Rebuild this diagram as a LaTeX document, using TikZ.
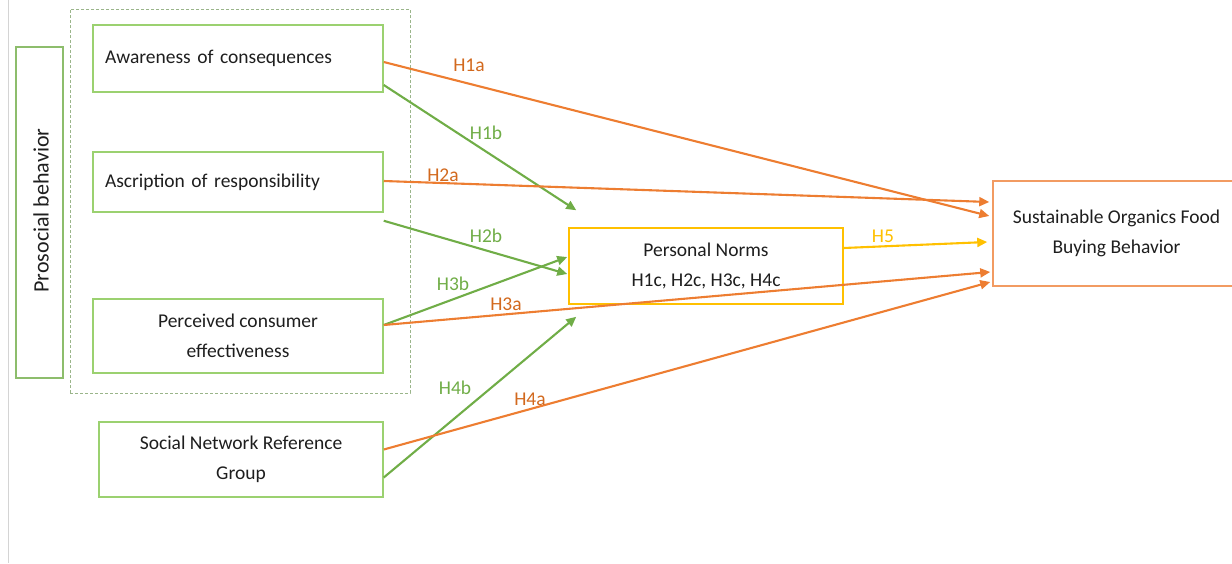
\documentclass[tikz,border=0pt]{standalone}
\usepackage{fontspec}
\setmainfont{Carlito}
\usetikzlibrary{arrows.meta}
\definecolor{txt}{HTML}{1E1E1E}
\definecolor{boxgreen}{HTML}{9BD170}
\definecolor{dashgreen}{HTML}{9AB58A}
\definecolor{arrgreen}{HTML}{70AD47}
\definecolor{arrorange}{HTML}{ED7D31}
\definecolor{laborange}{HTML}{D2691E}
\definecolor{gold}{HTML}{FFC000}
\definecolor{outorange}{HTML}{F29B62}
\definecolor{rule}{HTML}{D4D4D4}
\begin{document}
\begin{tikzpicture}[x=1pt,y=-1pt,
  every node/.style={font=\fontsize{19.5}{30}\selectfont, text=txt},
  gbox/.style={draw=boxgreen, line width=1.5pt, rectangle, inner sep=0pt},
  lbox/.style={gbox, minimum height=#1, text width=266pt, inner xsep=12pt, align=left},
  cbox/.style={gbox, minimum width=284pt, minimum height=#1, align=center},
  arr/.style={line width=2.1pt, -{Triangle[length=10pt,width=9pt]}},
  ga/.style={arr, draw=arrgreen},
  oa/.style={arr, draw=arrorange},
  ya/.style={arr, draw=gold},
  glab/.style={text=arrgreen},
  olab/.style={text=laborange},
  ylab/.style={text=gold}]
\useasboundingbox (0,0) rectangle (1232,563);

% thin page rule on the left
\draw[rule, line width=0.8pt] (8,0) -- (8,563);

% construct group
\node[gbox, draw=arrgreen!80, minimum width=47pt, minimum height=331pt] (pro) at (39.5,212.5) {};
\node[rotate=90, font=\fontsize{22}{26}\selectfont] (protext) at (41,210.5) {Prosocial behavior};
\node[draw=dashgreen, dashed, dash pattern=on 3pt off 2pt, line width=1pt,
      minimum width=340pt, minimum height=384pt, inner sep=0pt] (grp) at (240,201) {};

% predictors
\node[lbox=67pt] (aw) at (238,58.5) {Awareness of consequences};
\node[lbox=60pt] (asc) at (238,182) {Ascription of responsibility};
\node[cbox=74pt, minimum width=290pt] (pce) at (238,336) {Perceived consumer\\effectiveness};
\node[gbox, minimum width=284pt, minimum height=75pt, align=center] (soc) at (241,459.5) {Social Network Reference\\Group};

% mediator and outcome
\node[draw=gold, line width=1.5pt, minimum width=274pt, minimum height=76pt, inner sep=0pt, align=center] (pn) at (706,266) {Personal Norms\\H1c, H2c, H3c, H4c};
\node[draw=outorange, line width=1.5pt, minimum width=247pt, minimum height=105pt, inner sep=0pt, align=center] (sob) at (1116.5,233.5) {Sustainable Organics Food\\Buying Behavior};

% paths to personal norms
\draw[ga] ([yshift=-26.5pt]aw.east) -- ([xshift=8pt,yshift=17pt]pn.north west);
\draw[ga] ([yshift=-8pt]asc.south east) -- ([xshift=-1pt,yshift=-8pt]pn.west);
\draw[ga] ([yshift=11pt]pce.east) -- ([xshift=-1pt,yshift=9pt]pn.west);
\draw[ga] ([yshift=-18pt]soc.east) -- ([xshift=8pt,yshift=-12pt]pn.south west);

% paths to buying behaviour
\draw[oa] ([yshift=-3.5pt]aw.east) -- ([xshift=-3pt,yshift=17.5pt]sob.west);
\draw[oa] ([yshift=1pt]asc.east) -- ([xshift=-3pt,yshift=31.5pt]sob.west);
\draw[oa] ([yshift=11pt]pce.east) -- ([xshift=-2pt,yshift=-38.5pt]sob.west);
\draw[oa] ([yshift=10pt]soc.east) -- ([xshift=-2pt,yshift=-48.5pt]sob.west);
\draw[ya] ([yshift=18pt]pn.east) -- ([xshift=-5pt,yshift=-8.5pt]sob.west);

% hypothesis labels
\node[olab] (l1a) at (469,65) {H1a};
\node[glab] (l1b) at (486,133) {H1b};
\node[olab] (l2a) at (443,175) {H2a};
\node[glab] (l2b) at (486,236) {H2b};
\node[glab] (l3b) at (453,284) {H3b};
\node[olab] (l3a) at (506,304) {H3a};
\node[glab] (l4b) at (455,388) {H4b};
\node[olab] (l4a) at (530,399) {H4a};
\node[ylab] (l5) at (883,236) {H5};
\end{tikzpicture}
\end{document}
